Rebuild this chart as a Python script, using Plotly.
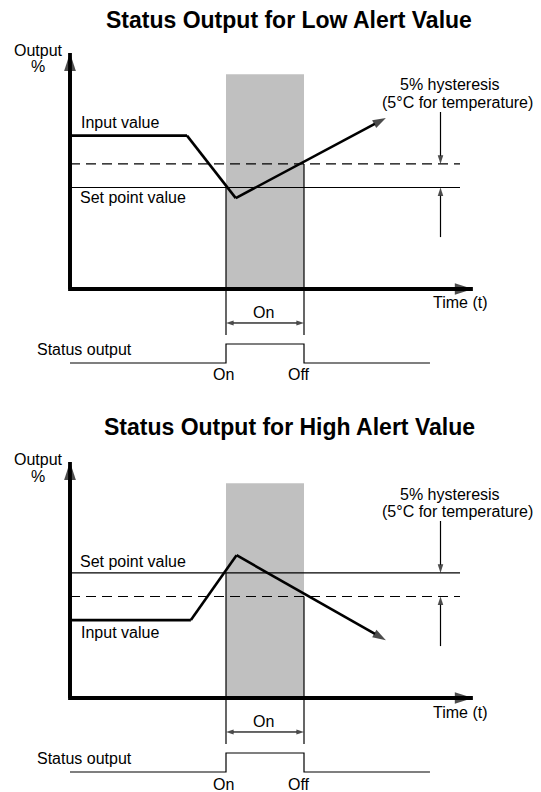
import plotly.graph_objects as go

# ---------------- data ----------------
titles = ["Status Output for Low Alert Value", "Status Output for High Alert Value"]

t_on = 40          # status switches on
t_off = 60         # status switches off
t_ref_end = 100    # end of set point / hysteresis lines
t_axis_end = 103.3 # time axis arrow tip
v_axis_end = 100   # output axis arrow tip
shade_top = 91     # top of the grey "on" band

low_input_t = [0, 30, 42.5, 81]
low_input_v = [65, 65, 38.5, 72.5]
low_setpoint = 43
low_reset = 53

high_input_t = [0, 31, 42.7, 81]
high_input_v = [33, 33, 60.5, 24.5]
high_setpoint = 53
high_reset = 43

status_t = [0, 40, 40, 60, 60, 92.3]
status_v = [0, 0, 1, 1, 0, 0]

hyst_t = 95
hyst_upper_from = 75
hyst_lower_from = 22
ext_bottom = -19.5   # extension lines below time axis
dim_level = -14.4    # "On" dimension arrow

# ---------------- layout geometry (page pixels) ----------------
PAGE_W, PAGE_H = 541, 792
BODY = 8                       # browser body margin
W, H = PAGE_W - BODY, PAGE_H - BODY
X0_PX, PX_PER_T = 70, 3.9
PX_PER_V = 2.36
PX_PER_S = 19
panels = [
    dict(title=titles[0], t=low_input_t, v=low_input_v, sp=low_setpoint, rs=low_reset,
         ya="y", sa="y3", off=0),
    dict(title=titles[1], t=high_input_t, v=high_input_v, sp=high_setpoint, rs=high_reset,
         ya="y2", sa="y4", off=409),
]

FONT = "Liberation Sans, Arial, sans-serif"
fig = go.Figure()
annotations = []
shapes = []


def P(px, py):
    return (px - BODY) / W, 1 - (py - BODY) / H


def text(s, px, py, xanchor="center", size=16, bold=False):
    x, y = P(px, py)
    annotations.append(dict(
        text=f"<b>{s}</b>" if bold else s, x=x, y=y, xref="paper", yref="paper",
        xanchor=xanchor, yanchor="middle", showarrow=False, borderpad=0,
        font=dict(family=FONT, size=size, color="black")))


def line(x, y, ya, width=1.2, dash="solid", arrow_size=0):
    n = len(x)
    sizes = [0] * n
    syms = ["circle"] * n
    if arrow_size:
        sizes[-1] = arrow_size
        syms[-1] = "arrow"
    fig.add_trace(go.Scatter(
        x=x, y=y, yaxis=ya, mode="lines+markers" if arrow_size else "lines",
        line=dict(color="black", width=width, dash=dash),
        marker=dict(symbol=syms, size=sizes, color="black", angleref="previous",
                    line=dict(width=0)),
        hoverinfo="skip", showlegend=False))


for p in panels:
    ya, sa, off = p["ya"], p["sa"], p["off"]
    # grey band
    shapes.append(dict(type="rect", xref="x", yref=ya, x0=t_on, x1=t_off, y0=0, y1=shade_top,
                       fillcolor="#c0c0c0", line=dict(width=0), layer="below"))
    # set point & hysteresis
    line([0, t_ref_end], [p["sp"], p["sp"]], ya)
    line([0, t_ref_end], [p["rs"], p["rs"]], ya, dash="10px,6px")
    # extension lines
    line([t_on, t_on], [p["sp"], ext_bottom], ya)
    line([t_off, t_off], [p["rs"], ext_bottom], ya)
    # axes
    line([0, 0, t_axis_end], [v_axis_end, 0, 0], ya, width=3.8, arrow_size=19)
    line([0, 0], [0, v_axis_end], ya, width=3.8, arrow_size=19)
    # input value
    line(p["t"], p["v"], ya, width=2.6, arrow_size=14)
    # hysteresis arrows
    upper, lower = max(p["sp"], p["rs"]), min(p["sp"], p["rs"])
    line([hyst_t, hyst_t], [hyst_upper_from, upper], ya, arrow_size=9)
    line([hyst_t, hyst_t], [hyst_lower_from, lower], ya, arrow_size=9)
    # On dimension arrows
    mid = (t_on + t_off) / 2
    line([mid, t_on], [dim_level, dim_level], ya, arrow_size=8)
    line([mid, t_off], [dim_level, dim_level], ya, arrow_size=8)
    # status output
    line(status_t, status_v, sa)

    # texts
    text(p["title"], 289, 20 + off * 0.995, size=23, bold=True)
    text("Output", 38, 50 + off)
    text("%", 38, 67 + off)
    if ya == "y":
        text("Input value", 80, 122 + off, xanchor="left")
        text("Set point value", 79, 197 + off, xanchor="left")
    else:
        text("Set point value", 79, 152 + off, xanchor="left")
        text("Input value", 80, 223 + off, xanchor="left")
    text("5% hysteresis", 450, 85 + off)
    text("(5°C for temperature)", 457, 102 + off)
    text("Time (t)", 460, 303 + off)
    text("On", 263, 312 + off)
    text("Status output", 36, 349 + off, xanchor="left")
    text("On", 223, 375 + off)
    text("Off", 299, 375 + off)


def trange():
    return [(BODY - X0_PX) / PX_PER_T, (PAGE_W - X0_PX) / PX_PER_T]


def vrange(y0, k):
    return [(y0 - PAGE_H) / k, (y0 - BODY) / k]


ax_common = dict(visible=False, fixedrange=True, domain=[0, 1])
fig.update_layout(
    width=W, height=H, margin=dict(l=0, r=0, t=0, b=0),
    paper_bgcolor="white", plot_bgcolor="white", showlegend=False,
    xaxis=dict(range=trange(), **ax_common),
    yaxis=dict(range=vrange(289, PX_PER_V), **ax_common),
    yaxis2=dict(range=vrange(698, PX_PER_V), overlaying="y", **ax_common),
    yaxis3=dict(range=vrange(363, PX_PER_S), overlaying="y", **ax_common),
    yaxis4=dict(range=vrange(772, PX_PER_S), overlaying="y", **ax_common),
    annotations=annotations, shapes=shapes,
)
fig.write_html("out.html")
